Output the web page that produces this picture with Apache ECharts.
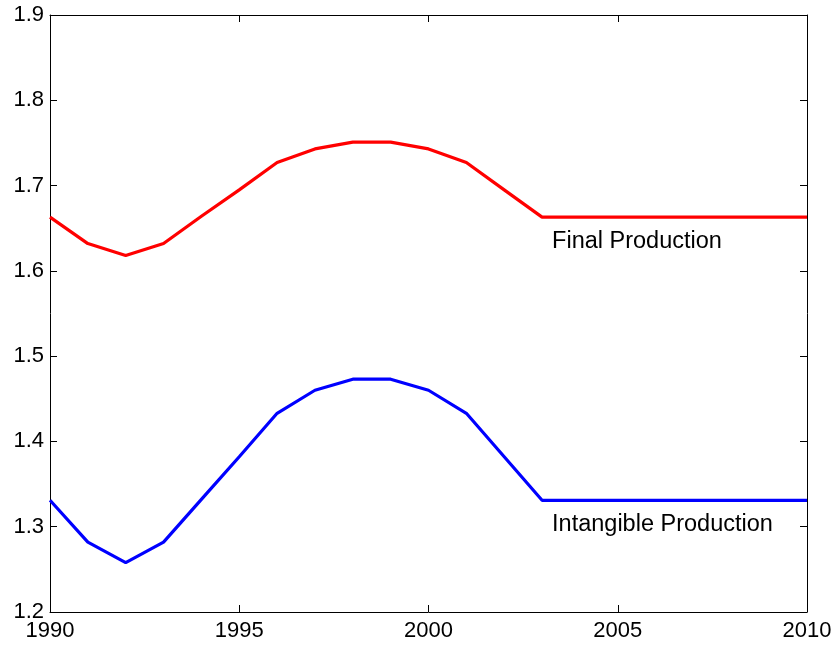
<!DOCTYPE html>
<html>
<head>
<meta charset="utf-8">
<script src="https://cdn.jsdelivr.net/npm/echarts@6/dist/echarts.min.js"></script>
<style>
  html, body { margin: 0; padding: 0; background: #fff; }
  #chart { width: 838px; height: 647px; }
</style>
</head>
<body>
<div id="chart"></div>
<script>
// Yearly index values, 1990-2010
const years = [1990, 1991, 1992, 1993, 1994, 1995, 1996, 1997, 1998, 1999, 2000,
               2001, 2002, 2003, 2004, 2005, 2006, 2007, 2008, 2009, 2010];
const finalProduction = [1.663, 1.632, 1.618, 1.632, 1.664, 1.695, 1.727, 1.743, 1.751, 1.751, 1.743,
                         1.727, 1.695, 1.663, 1.663, 1.663, 1.663, 1.663, 1.663, 1.663, 1.663];
const intangibleProduction = [1.331, 1.282, 1.258, 1.282, 1.332, 1.382, 1.433, 1.460, 1.473, 1.473, 1.460,
                              1.433, 1.382, 1.331, 1.331, 1.331, 1.331, 1.331, 1.331, 1.331, 1.331];
const seriesNames = ['Final Production', 'Intangible Production'];
const labelYear = 2003;

const FONT = '"Liberation Sans", Arial, Helvetica, sans-serif';

function pairs(values) {
  return years.map((y, i) => [y, values[i]]);
}

function lineSeries(name, values, color) {
  const idx = years.indexOf(labelYear);
  return {
    name: name,
    type: 'line',
    data: pairs(values),
    showSymbol: false,
    symbol: 'none',
    lineStyle: { color: color, width: 3.2 },
    itemStyle: { color: color },
    animation: false,
    markPoint: {
      symbol: 'circle',
      symbolSize: 0,
      silent: true,
      data: [{
        coord: [labelYear, values[idx]],
        label: {
          show: true,
          formatter: name,
          position: 'inside',
          offset: [10, 24],
          align: 'left',
          verticalAlign: 'middle',
          color: '#000',
          fontFamily: FONT,
          fontSize: 23.5
        }
      }]
    }
  };
}

const tickStyle = { show: true, inside: true, length: 7, lineStyle: { color: '#000', width: 1 } };
const lineStyleAxis = { show: true, lineStyle: { color: '#000', width: 1 } };

const chart = echarts.init(document.getElementById('chart'));
chart.setOption({
  backgroundColor: '#fff',
  animation: false,
  grid: { left: 50, right: 31, top: 15, bottom: 35, containLabel: false },
  xAxis: [{
    type: 'value', position: 'bottom', min: 1990, max: 2010, interval: 5,
    axisLine: lineStyleAxis, axisTick: tickStyle, splitLine: { show: false },
    axisLabel: { color: '#000', fontFamily: FONT, fontSize: 22, margin: 8,
                 formatter: v => String(v) }
  }, {
    type: 'value', position: 'top', min: 1990, max: 2010, interval: 5,
    axisLine: lineStyleAxis, axisTick: tickStyle, splitLine: { show: false },
    axisLabel: { show: false }
  }],
  yAxis: [{
    type: 'value', position: 'left', min: 1.2, max: 1.9, interval: 0.1,
    axisLine: lineStyleAxis, axisTick: tickStyle, splitLine: { show: false },
    axisLabel: { color: '#000', fontFamily: FONT, fontSize: 22, margin: 6,
                 formatter: v => v.toFixed(1) }
  }, {
    type: 'value', position: 'right', min: 1.2, max: 1.9, interval: 0.1,
    axisLine: lineStyleAxis, axisTick: tickStyle, splitLine: { show: false },
    axisLabel: { show: false }
  }],
  series: [
    lineSeries(seriesNames[0], finalProduction, '#ff0000'),
    lineSeries(seriesNames[1], intangibleProduction, '#0000ff')
  ]
});
</script>
</body>
</html>
